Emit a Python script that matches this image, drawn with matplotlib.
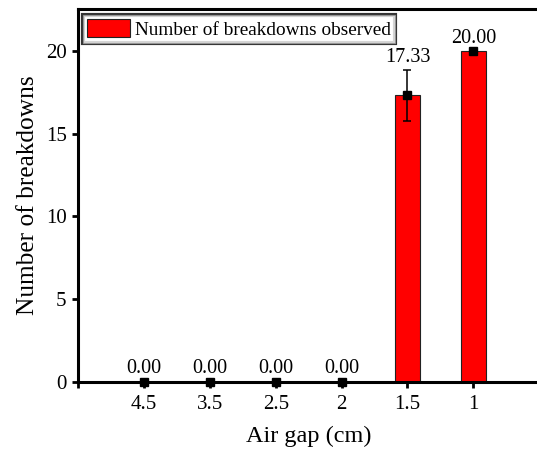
import matplotlib
matplotlib.use("Agg")
import matplotlib.pyplot as plt
import matplotlib.patheffects as pe
import numpy as np

plt.rcParams["font.family"] = ["Liberation Serif", "DejaVu Serif"]

# data
gaps = ["4.5", "3.5", "2.5", "2", "1.5", "1"]
breakdowns = [0.0, 0.0, 0.0, 0.0, 17.33, 20.0]
errors = [0.0, 0.0, 0.0, 0.0, 1.53, 0.0]
y_ticks = [0, 5, 10, 15, 20]

RED, INK = "#ff0000", "#000000"

fig = plt.figure(figsize=(5.37, 4.49), dpi=100)
ax = fig.add_axes([0.1447, 0.1503, 0.8593, 0.829])

x = np.arange(len(gaps))
ax.bar(x, breakdowns, 0.38, color=RED, edgecolor="#222222", lw=0.8,
       label="Number of breakdowns observed", zorder=2)
ax.errorbar(x, breakdowns, yerr=errors, fmt="none", ecolor=INK, elinewidth=1.1,
            capsize=2.6, capthick=1.1, zorder=3)
ax.plot(x, breakdowns, ls="none", marker="s", ms=5.8, color=INK, clip_on=False, zorder=4)

for xi, v, e in zip(x, breakdowns, errors):
    ax.annotate(f"{v:.2f}", (xi, v + e), xytext=(0, 6), textcoords="offset points",
                ha="center", va="baseline", fontsize=14.5)

ax.set_xlim(-1.01, 5.97)
ax.set_ylim(0, 22.55)
ax.set_xticks(np.arange(-1, 7))
ax.set_xticklabels([""] + gaps + [""])
ax.set_yticks(y_ticks)
ax.tick_params(direction="out", length=4.5, width=2, labelsize=15, color=INK)
ax.tick_params(axis="x", pad=5.5)
ax.tick_params(axis="y", pad=3.5)
for s in ax.spines.values():
    s.set_linewidth(2.2)

ax.set_xlabel("Air gap (cm)", fontsize=17.5, labelpad=8)
ax.set_ylabel("Number of breakdowns", fontsize=18.3, labelpad=5)

leg = ax.legend(loc="upper left", fontsize=13.9, frameon=True, fancybox=False,
                handlelength=2.2, handleheight=1.08, handletextpad=0.25,
                borderpad=0.2, borderaxespad=0.3)
frame = leg.get_frame()
frame.set_edgecolor("#9a9a9a")
frame.set_linewidth(0.8)
frame.set_path_effects([pe.Stroke(linewidth=3.0, foreground=INK), pe.Normal()])

fig.savefig("out.png", dpi=100)
